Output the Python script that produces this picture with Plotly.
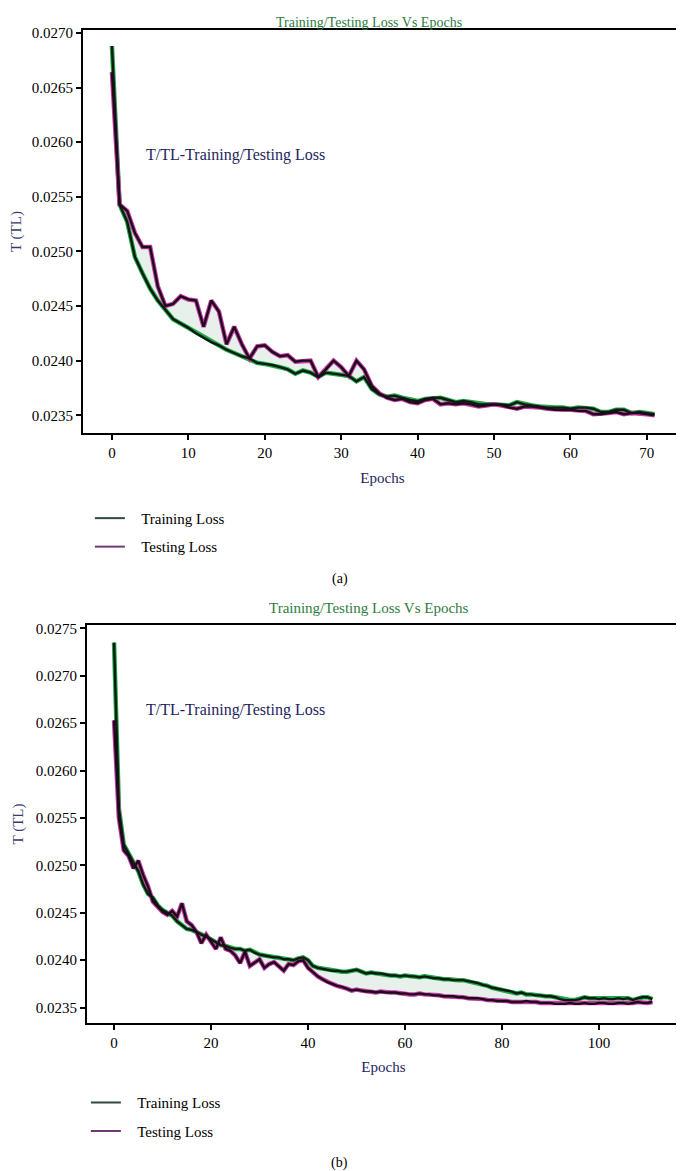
import plotly.graph_objects as go

# ---- data ----
epochs_a = list(range(72))
train_a = [0.02688, 0.02543, 0.02527, 0.02495, 0.02480, 0.02466, 0.02455, 0.02446, 0.02438, 0.02434,
           0.02430, 0.02425, 0.02421, 0.02417, 0.02414, 0.02410, 0.02407, 0.02404, 0.02402, 0.02398,
           0.02397, 0.02396, 0.02394, 0.02392, 0.02388, 0.02391, 0.02389, 0.02385, 0.02389, 0.02388,
           0.02387, 0.02386, 0.02381, 0.02385, 0.02374, 0.02369, 0.02367, 0.02368, 0.02366, 0.02364,
           0.02363, 0.02365, 0.02366, 0.02366, 0.02364, 0.02362, 0.02363, 0.02362, 0.02360, 0.02360,
           0.02360, 0.02360, 0.02359, 0.02362, 0.02360, 0.02359, 0.02358, 0.02357, 0.02357, 0.02357,
           0.02356, 0.02357, 0.02357, 0.02356, 0.02353, 0.02353, 0.02355, 0.02355, 0.02352, 0.02353,
           0.02352, 0.02351]
test_a = [0.02664, 0.02543, 0.02537, 0.02517, 0.02504, 0.02504, 0.02468, 0.02450, 0.02452, 0.02459,
          0.02456, 0.02455, 0.02431, 0.02455, 0.02445, 0.02415, 0.02431, 0.02415, 0.02402, 0.02413,
          0.02414, 0.02408, 0.02404, 0.02405, 0.02399, 0.02400, 0.02400, 0.02385, 0.02392, 0.02400,
          0.02394, 0.02386, 0.02400, 0.02392, 0.02377, 0.02370, 0.02366, 0.02364, 0.02365, 0.02362,
          0.02361, 0.02364, 0.02365, 0.02360, 0.02361, 0.02360, 0.02361, 0.02360, 0.02358, 0.02359,
          0.02360, 0.02359, 0.02357, 0.02356, 0.02358, 0.02358, 0.02357, 0.02356, 0.02355, 0.02355,
          0.02355, 0.02354, 0.02354, 0.02351, 0.02351, 0.02352, 0.02353, 0.02351, 0.02352, 0.02352,
          0.02351, 0.02350]

epochs_b = list(range(112))
train_b = [0.02735, 0.02560, 0.02522, 0.02512, 0.02503, 0.02494, 0.02480, 0.02470, 0.02466, 0.02458,
           0.02453, 0.02450, 0.02447, 0.02441, 0.02437, 0.02433, 0.02432, 0.02430, 0.02427, 0.02425,
           0.02422, 0.02419, 0.02416, 0.02415, 0.02413, 0.02412, 0.02412, 0.02410, 0.02411, 0.02408,
           0.02406, 0.02405, 0.02404, 0.02403, 0.02403, 0.02401, 0.02401, 0.02400, 0.02402, 0.02403,
           0.02400, 0.02394, 0.02392, 0.02391, 0.02390, 0.02389, 0.02389, 0.02388, 0.02388, 0.02389,
           0.02390, 0.02388, 0.02386, 0.02387, 0.02386, 0.02386, 0.02385, 0.02384, 0.02384, 0.02383,
           0.02384, 0.02383, 0.02383, 0.02382, 0.02383, 0.02382, 0.02381, 0.02381, 0.02380, 0.02380,
           0.02379, 0.02379, 0.02379, 0.02378, 0.02377, 0.02376, 0.02374, 0.02373, 0.02371, 0.02370,
           0.02369, 0.02368, 0.02367, 0.02365, 0.02366, 0.02364, 0.02364, 0.02363, 0.02363, 0.02362,
           0.02362, 0.02361, 0.02359, 0.02358, 0.02358, 0.02358, 0.02359, 0.02361, 0.02360, 0.02360,
           0.02359, 0.02360, 0.02359, 0.02359, 0.02360, 0.02359, 0.02360, 0.02358, 0.02360, 0.02361,
           0.02361, 0.02359]
test_b = [0.02653, 0.02550, 0.02516, 0.02510, 0.02497, 0.02505, 0.02490, 0.02478, 0.02462, 0.02456,
          0.02451, 0.02448, 0.02452, 0.02446, 0.02460, 0.02441, 0.02437, 0.02430, 0.02418, 0.02427,
          0.02420, 0.02412, 0.02424, 0.02412, 0.02410, 0.02405, 0.02397, 0.02409, 0.02394, 0.02398,
          0.02401, 0.02392, 0.02396, 0.02398, 0.02394, 0.02389, 0.02396, 0.02395, 0.02399, 0.02400,
          0.02392, 0.02387, 0.02383, 0.02380, 0.02377, 0.02375, 0.02373, 0.02372, 0.02370, 0.02368,
          0.02369, 0.02368, 0.02367, 0.02367, 0.02366, 0.02367, 0.02366, 0.02366, 0.02366, 0.02365,
          0.02365, 0.02364, 0.02364, 0.02365, 0.02364, 0.02364, 0.02363, 0.02363, 0.02362, 0.02362,
          0.02362, 0.02361, 0.02361, 0.02360, 0.02360, 0.02360, 0.02359, 0.02358, 0.02358, 0.02357,
          0.02357, 0.02357, 0.02356, 0.02356, 0.02356, 0.02357, 0.02356, 0.02356, 0.02355, 0.02355,
          0.02355, 0.02354, 0.02354, 0.02354, 0.02355, 0.02354, 0.02354, 0.02355, 0.02354, 0.02354,
          0.02355, 0.02355, 0.02354, 0.02354, 0.02355, 0.02355, 0.02354, 0.02355, 0.02356, 0.02355,
          0.02355, 0.02356]

SERIF = "Liberation Serif"
GREEN_HALO = "#22a84a"
PINK_HALO = "#c83aa8"
TITLE_GREEN = "#2e7d40"
NAVY = "#1e1e5e"
PAD = "\u00a0\u00a0\u00a0"  # pushes legend text right, like the reference

# the page body has an 8px margin, so size the figure to fit the window
OFF = 8
W = 684 - OFF
H = 1171 - OFF


def fx(px):
    return (px - OFF) / W


def fy(py):
    return 1 - (py - OFF) / H


fig = go.Figure()


def add_panel(x, tr, te, xa, ya, leg):
    # coloured halos + light fill between them
    fig.add_trace(go.Scatter(x=x, y=tr, mode="lines", line=dict(color=GREEN_HALO, width=4.5),
                             xaxis=xa, yaxis=ya, showlegend=False, hoverinfo="skip"))
    fig.add_trace(go.Scatter(x=x, y=te, mode="lines", line=dict(color=PINK_HALO, width=4.5),
                             fill="tonexty", fillcolor="rgba(205,222,210,0.45)",
                             xaxis=xa, yaxis=ya, showlegend=False, hoverinfo="skip"))
    # dark core lines
    fig.add_trace(go.Scatter(x=x, y=tr, mode="lines", line=dict(color="#0c1a10", width=2.4),
                             xaxis=xa, yaxis=ya, showlegend=False, name="Training Loss"))
    fig.add_trace(go.Scatter(x=x, y=te, mode="lines", line=dict(color="#1a0c18", width=2.4),
                             xaxis=xa, yaxis=ya, showlegend=False, name="Testing Loss"))
    # legend entries
    fig.add_trace(go.Scatter(x=[None], y=[None], mode="lines", line=dict(color="#2f4a3c", width=2),
                             name=PAD + "Training Loss", legend=leg, legendgroup=leg + "tr",
                             xaxis=xa, yaxis=ya))
    fig.add_trace(go.Scatter(x=[None], y=[None], mode="lines", line=dict(color="#6e3a70", width=2),
                             name=PAD + "Testing Loss", legend=leg, legendgroup=leg + "te",
                             xaxis=xa, yaxis=ya))


add_panel(epochs_a, train_a, test_a, "x", "y", "legend")
add_panel(epochs_b, train_b, test_b, "x2", "y2", "legend2")

axis_common = dict(showline=True, linecolor="black", linewidth=2, mirror=True,
                   ticks="outside", ticklen=5, tickwidth=2, tickcolor="black",
                   showgrid=False, zeroline=False,
                   tickfont=dict(family=SERIF, size=15, color="black"))

legend_common = dict(font=dict(family=SERIF, size=15, color="black"), bgcolor="rgba(0,0,0,0)",
                     xanchor="left", yanchor="top", tracegroupgap=6, traceorder="grouped")

fig.update_layout(
    width=W, height=H,
    margin=dict(l=0, r=0, t=0, b=0),
    paper_bgcolor="white", plot_bgcolor="white",
    xaxis=dict(domain=[fx(83), fx(683)], range=[-3.8, 74.6], dtick=10, anchor="y",
               title=dict(text="Epochs", font=dict(family=SERIF, size=15, color=NAVY), standoff=12),
               **axis_common),
    yaxis=dict(domain=[fy(430), fy(25)], range=[0.023336, 0.027027], dtick=0.0005,
               tickformat=".4f", anchor="x",
               title=dict(text="T (TL)", font=dict(family=SERIF, size=15, color="#3a3a6a"), standoff=8),
               **axis_common),
    xaxis2=dict(domain=[fx(87), fx(681)], range=[-5.6, 116.7], dtick=20, anchor="y2",
                title=dict(text="Epochs", font=dict(family=SERIF, size=15, color=NAVY), standoff=12),
                **axis_common),
    yaxis2=dict(domain=[fy(1022), fy(623)], range=[0.023342, 0.027532], dtick=0.0005,
                tickformat=".4f", anchor="x2",
                title=dict(text="T (TL)", font=dict(family=SERIF, size=15, color="#3a3a6a"), standoff=8),
                **axis_common),
    legend=dict(x=fx(90), y=fy(499), **legend_common),
    legend2=dict(x=fx(86), y=fy(1086), **legend_common),
)

annots = [
    dict(text="Training/Testing Loss Vs Epochs", x=fx(370), y=fy(8), yanchor="top",
         font=dict(family=SERIF, size=14, color=TITLE_GREEN)),
    dict(text="Training/Testing Loss Vs Epochs", x=fx(370), y=fy(606), yanchor="middle",
         font=dict(family=SERIF, size=15, color=TITLE_GREEN)),
    dict(text="T/TL-Training/Testing Loss", x=fx(236), y=fy(151), yanchor="middle",
         font=dict(family=SERIF, size=16, color=NAVY)),
    dict(text="T/TL-Training/Testing Loss", x=fx(236), y=fy(708), yanchor="middle",
         font=dict(family=SERIF, size=16, color=NAVY)),
    dict(text="(a)", x=fx(340), y=fy(576), yanchor="middle",
         font=dict(family=SERIF, size=14, color="black")),
    dict(text="(b)", x=fx(340), y=fy(1163), yanchor="middle",
         font=dict(family=SERIF, size=14, color="black")),
]
for a in annots:
    fig.add_annotation(xref="paper", yref="paper", showarrow=False, xanchor="center", **a)

fig.write_html("out.html")
